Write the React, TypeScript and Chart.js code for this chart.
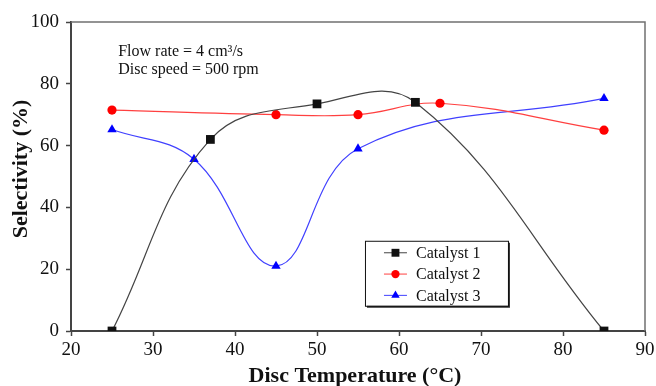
import React, { useEffect, useRef } from "react";
import { Chart, registerables } from "chart.js";

Chart.register(...registerables);

// Disc temperature (°C) for each series and the selectivity (%) measured
const catalyst1Temps = [25, 37, 50, 62, 85];
const catalyst1Values = [0, 62, 73.5, 74, 0];

const catalyst2Temps = [25, 45, 55, 65, 85];
const catalyst2Values = [71.5, 70, 70, 73.7, 65];

const catalyst3Temps = [25, 35, 45, 55, 85];
const catalyst3Values = [65.2, 55.6, 21, 59, 75.3];

const seriesNames = ["Catalyst 1", "Catalyst 2", "Catalyst 3"];
const seriesColors = ["#111111", "#ff0000", "#0000ff"];
const lineColors = ["#444444", "#ff4040", "#4040ff"];
const markerStyles = ["rect", "circle", "triangle"];
const markerRadius = [6.2, 4.6, 5.4];

const noteLines = ["Flow rate = 4 cm\u00b3/s", "Disc speed = 500 rpm"];
const xTitle = "Disc Temperature (\u00b0C)";
const yTitle = "Selectivity (%)";

const SERIF = "'Liberation Serif', 'Times New Roman', serif";

function toPoints(xs: number[], ys: number[]) {
  return xs.map((x, i) => ({ x, y: ys[i] }));
}

function drawMarker(ctx: CanvasRenderingContext2D, style: string, r: number, x: number, y: number) {
  ctx.beginPath();
  if (style === "rect") {
    const s = Math.SQRT1_2 * r;
    ctx.rect(x - s, y - s, 2 * s, 2 * s);
  } else if (style === "circle") {
    ctx.arc(x, y, r, 0, Math.PI * 2);
  } else {
    const a = (Math.PI * 2) / 3;
    for (let k = 0; k < 3; k++) {
      const ang = -Math.PI / 2 + k * a;
      const px = x + Math.cos(ang) * r;
      const py = y + Math.sin(ang) * r;
      if (k === 0) ctx.moveTo(px, py);
      else ctx.lineTo(px, py);
    }
    ctx.closePath();
  }
  ctx.fill();
}

// Draws the grey frame, axis titles, the operating-conditions note and the boxed legend
const decorPlugin = {
  id: "decor",
  afterDraw(chart: any) {
    const { ctx, chartArea } = chart;
    const { left, right, top, bottom } = chartArea;
    const xs = chart.scales.x;
    const ys = chart.scales.y;
    ctx.save();

    // top and right frame edges
    ctx.strokeStyle = "#707070";
    ctx.lineWidth = 1.5;
    ctx.beginPath();
    ctx.moveTo(left, top);
    ctx.lineTo(right, top);
    ctx.lineTo(right, bottom);
    ctx.stroke();

    // axis titles
    ctx.fillStyle = "#111";
    ctx.font = `bold 22px ${SERIF}`;
    ctx.textAlign = "center";
    ctx.textBaseline = "alphabetic";
    ctx.fillText(xTitle, 355, 382);
    ctx.save();
    ctx.translate(27, 169);
    ctx.rotate(-Math.PI / 2);
    ctx.fillText(yTitle, 0, 0);
    ctx.restore();

    // note text
    ctx.font = `16px ${SERIF}`;
    ctx.textAlign = "left";
    const noteX = xs.getPixelForValue(25.75);
    const noteY = ys.getPixelForValue(89.1);
    noteLines.forEach((t, i) => {
      ctx.fillText(t, noteX, noteY + i * 18);
    });

    // legend box
    const bx = xs.getPixelForValue(55.85);
    const by = ys.getPixelForValue(29.2);
    const bw = 143;
    const bh = 65;
    ctx.fillStyle = "#333";
    ctx.fillRect(bx + 2, by + 2, bw, bh);
    ctx.fillStyle = "#fff";
    ctx.fillRect(bx, by, bw, bh);
    ctx.strokeStyle = "#111";
    ctx.lineWidth = 1;
    ctx.strokeRect(bx + 0.5, by + 0.5, bw, bh);

    chart.data.datasets.forEach((ds: any, i: number) => {
      const cy = by + 12 + i * 21.3;
      ctx.strokeStyle = ds.borderColor;
      ctx.lineWidth = 1;
      ctx.beginPath();
      ctx.moveTo(bx + 19, cy);
      ctx.lineTo(bx + 42, cy);
      ctx.stroke();
      ctx.fillStyle = ds.pointBackgroundColor;
      drawMarker(ctx, ds.pointStyle, ds.pointRadius * 0.9, bx + 30.5, cy);
      ctx.fillStyle = "#111";
      ctx.font = `16px ${SERIF}`;
      ctx.textBaseline = "middle";
      ctx.fillText(ds.label, bx + 51, cy + 1);
    });
    ctx.restore();
  },
};

export default function App() {
  const canvasRef = useRef<HTMLCanvasElement | null>(null);

  useEffect(() => {
    if (!canvasRef.current) return;
    const series = [
      toPoints(catalyst1Temps, catalyst1Values),
      toPoints(catalyst2Temps, catalyst2Values),
      toPoints(catalyst3Temps, catalyst3Values),
    ];
    const chart = new Chart(canvasRef.current, {
      type: "line",
      data: {
        datasets: series.map((pts, i) => ({
          label: seriesNames[i],
          data: pts,
          borderColor: lineColors[i],
          borderWidth: 1.2,
          tension: 0.4,
          pointStyle: markerStyles[i] as any,
          pointRadius: markerRadius[i],
          pointBackgroundColor: seriesColors[i],
          pointBorderColor: seriesColors[i],
          pointBorderWidth: 0,
          fill: false,
        })),
      },
      options: {
        animation: false,
        responsive: false,
        maintainAspectRatio: false,
        layout: { padding: { top: 22, right: 11, left: 0, bottom: 0 } },
        plugins: {
          legend: { display: false },
          tooltip: { enabled: false },
        },
        scales: {
          x: {
            type: "linear",
            min: 20,
            max: 90,
            ticks: {
              stepSize: 10,
              color: "#111",
              font: { family: SERIF, size: 19 },
              padding: 3,
              maxRotation: 0,
            },
            grid: {
              drawOnChartArea: false,
              drawTicks: true,
              tickLength: 5,
              tickColor: "#444",
              tickWidth: 1.5,
            },
            border: { color: "#444", width: 2 },
            afterFit: (s: any) => {
              s.height = 55;
              s.paddingLeft = 0;
              s.paddingRight = 0;
            },
          },
          y: {
            type: "linear",
            min: 0,
            max: 100,
            ticks: {
              stepSize: 20,
              color: "#111",
              font: { family: SERIF, size: 19 },
              padding: 7,
            },
            grid: {
              drawOnChartArea: false,
              drawTicks: true,
              tickLength: 5,
              tickColor: "#444",
              tickWidth: 1.5,
            },
            border: { color: "#444", width: 2 },
            afterFit: (s: any) => {
              s.width = 71;
              s.paddingTop = 0;
              s.paddingBottom = 0;
            },
          },
        },
      },
      plugins: [decorPlugin],
    });
    return () => chart.destroy();
  }, []);

  return (
    <div style={{ position: "absolute", left: 0, top: 0, width: 656, height: 386, background: "#fff" }}>
      <canvas ref={canvasRef} width={656} height={386} style={{ display: "block" }} />
    </div>
  );
}
